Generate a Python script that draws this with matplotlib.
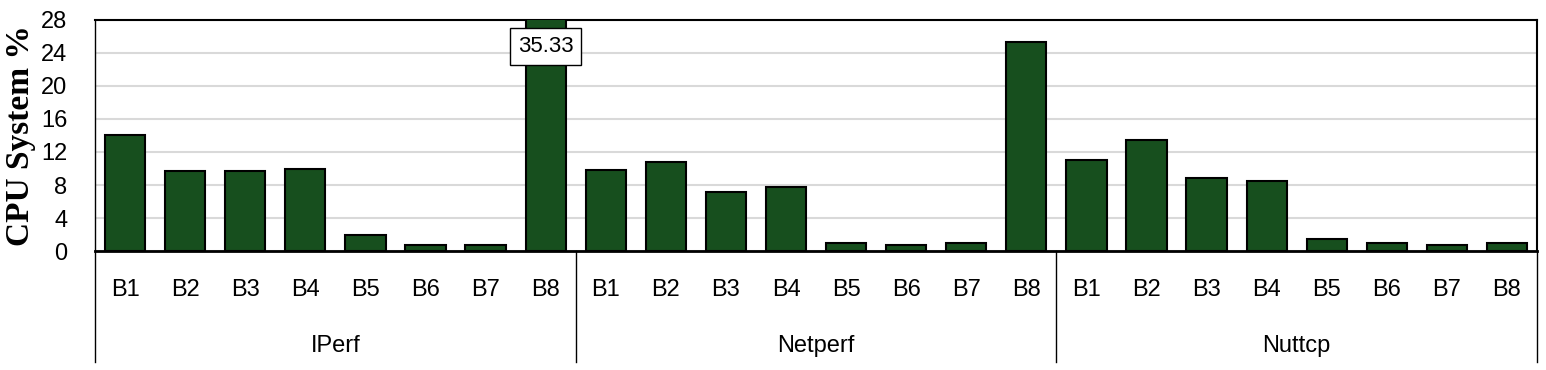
import matplotlib
matplotlib.use("Agg")
import matplotlib.pyplot as plt
import matplotlib.transforms as mtransforms

# data
groups = ["IPerf", "Netperf", "Nuttcp"]
bars = ["B1", "B2", "B3", "B4", "B5", "B6", "B7", "B8"]
iperf = [14.1, 9.75, 9.75, 9.9, 2.0, 0.7, 0.7, 35.33]
netperf = [9.8, 10.8, 7.2, 7.7, 1.0, 0.7, 1.0, 25.3]
nuttcp = [11.0, 13.45, 8.9, 8.5, 1.4, 0.95, 0.75, 0.95]
yticks = [0, 4, 8, 12, 16, 20, 24, 28]

plt.rcParams['font.family'] = ['Liberation Sans', 'DejaVu Sans']

values = iperf + netperf + nuttcp
x = list(range(len(values)))

fig = plt.figure(figsize=(15.46, 3.70), dpi=100)
ax = fig.add_axes([0.0615, 0.3216, 0.9327, 0.6244])

ax.bar(x, values, width=0.67, color='#174f1e', edgecolor='black', linewidth=1.5, zorder=3)

ax.set_xlim(-0.5, len(values) - 0.5)
ax.set_ylim(0, 28)
ax.set_yticks(yticks)
ax.yaxis.grid(True, color='#d9d9d9', linewidth=1.5, zorder=0)
ax.tick_params(axis='y', length=0, labelsize=17, pad=20)
ax.set_xticks(x)
ax.set_xticklabels(bars * 3, fontsize=17)
ax.tick_params(axis='x', length=0, pad=20)
for s in ax.spines.values():
    s.set_linewidth(1.5)
ax.spines['left'].set_linewidth(1.0)
ax.spines['bottom'].set_linewidth(2.0)

ax.set_ylabel("CPU System %", fontsize=24, fontweight='bold',
              family=['Liberation Serif', 'DejaVu Serif'])
ax.yaxis.set_label_coords(-0.041, 0.5)

# group labels and separator lines below the axis
trans = mtransforms.blended_transform_factory(ax.transData, ax.transAxes)
for i, g in enumerate(groups):
    ax.text(i * 8 + 3.5, -0.41, g, transform=trans, ha='center', va='center', fontsize=17)
for i in range(len(groups) + 1):
    xs = i * 8 - 0.5
    ax.plot([xs, xs], [0, -0.48], transform=trans, color='black', linewidth=1.0, clip_on=False)

# clipped bar label
ax.text(7, 24.8, "35.33", ha='center', va='center', fontsize=16, zorder=5,
        bbox=dict(boxstyle='square,pad=0.35', facecolor='white', edgecolor='black', linewidth=1.0))

fig.savefig("out.png", dpi=100)
